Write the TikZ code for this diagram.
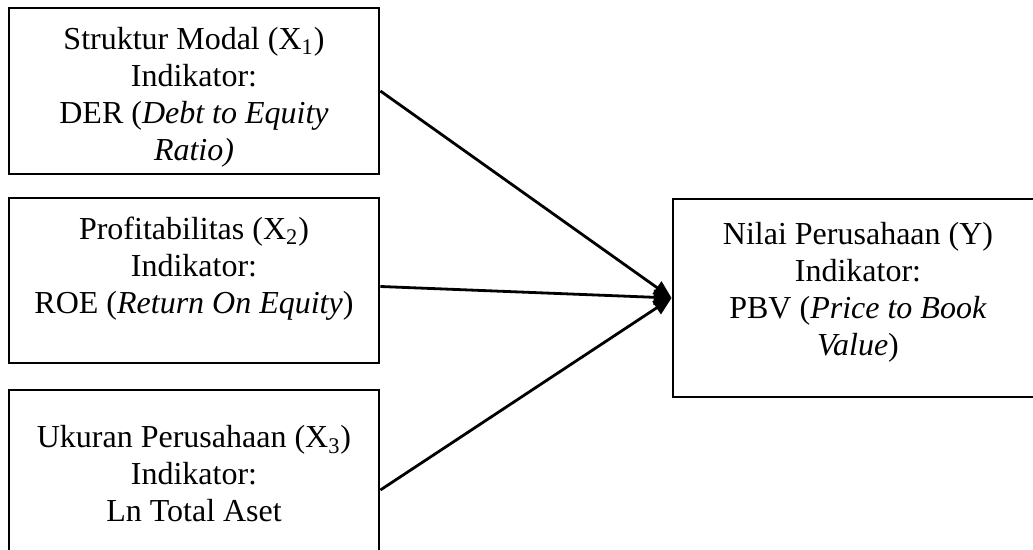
\documentclass[tikz,border=0pt]{standalone}
\usepackage{fontspec}
\setmainfont{Liberation Serif}
\usetikzlibrary{arrows.meta,calc}

\begin{document}
\begin{tikzpicture}[x=0.5pt, y=-0.5pt,
    frame/.style={draw, line width=1.4pt, inner sep=0pt},
    boxtext/.style={align=center, font=\fontsize{16}{18.5}\selectfont},
    link/.style={line width=1.4pt, -{Triangle[length=9pt, width=7.5pt]}}]
  \useasboundingbox (0,0) rectangle (1033,550);

  % frames: three independent variables on the left, the dependent one on the right
  \node[frame, minimum width=185pt, minimum height=83pt] (x1) at (194,91) {};
  \node[frame, minimum width=185pt, minimum height=82.5pt] (x2) at (194,280.5) {};
  \node[frame, minimum width=185pt, minimum height=83pt] (x3) at (194,473) {};
  \node[frame, minimum width=185pt, minimum height=99pt] (y) at (858,298) {};

  % texts inside the frames
  \node[boxtext] (t1) at (194,97) {Struktur Modal (X\textsubscript{1})\\ Indikator:\\
    DER (\textit{Debt to Equity}\\ \textit{Ratio)}};
  \node[boxtext] (t2) at (194,269) {Profitabilitas (X\textsubscript{2})\\ Indikator:\\
    ROE (\textit{Return On Equity})};
  \node[boxtext] (t3) at (194,474) {Ukuran Perusahaan (X\textsubscript{3})\\ Indikator:\\
    Ln Total Aset};
  \node[boxtext] (ty) at (858,292) {Nilai Perusahaan (Y)\\ Indikator:\\
    PBV (\textit{Price to Book}\\ \textit{Value})};

  % every variable points at Y
  \draw[link] (x1.east) -- (y.west);
  \draw[link] ($(x2.east)+(0,6)$) -- (y.west);
  \draw[link] ($(x3.east)+(0,17)$) -- (y.west);
\end{tikzpicture}
\end{document}
